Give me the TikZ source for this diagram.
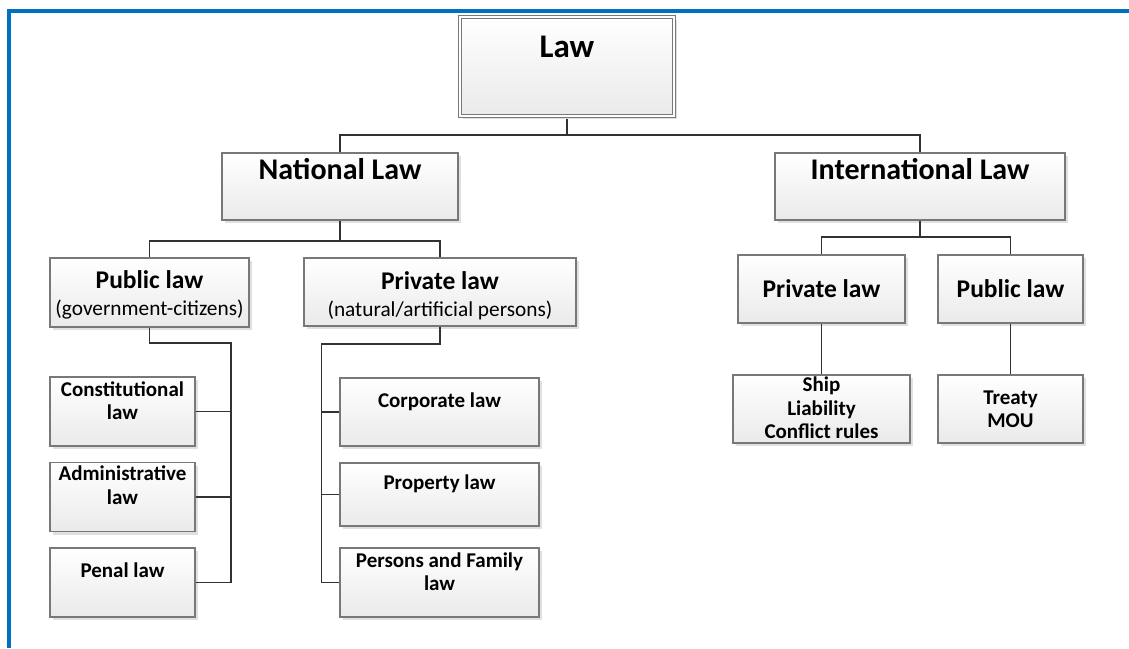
\documentclass[tikz,border=0pt]{standalone}
\usepackage{fontspec}
\setmainfont{Carlito}
\usetikzlibrary{shadows}

\definecolor{frameblue}{RGB}{0,112,192}
\definecolor{boxline}{RGB}{120,120,120}
\definecolor{boxbot}{RGB}{234,234,234}
\definecolor{linkgray}{RGB}{50,50,50}

% text set at the top of a box: width, height, first baseline, lines
\newcommand{\boxtext}[4]{\parbox[c][#2pt][t]{#1pt}{\centering\rule{0pt}{#3pt}#4\par}}

\begin{document}
\begin{tikzpicture}[x=1pt,y=-1pt,
  box/.style={draw=boxline,line width=1.1pt,top color=white,bottom color=boxbot,inner sep=0pt,
    drop shadow={shadow xshift=3pt,shadow yshift=-3pt,fill=black!12,opacity=1}},
  toplevel/.style={box,font=\bfseries\fontsize{30}{32}\selectfont},
  midlevel/.style={box,font=\bfseries\fontsize{25.5}{27}\selectfont},
  leaf/.style={box,font=\bfseries\fontsize{21}{23.5}\selectfont},
  link/.style={draw=linkgray,line width=1.7pt}]

\useasboundingbox (0,0) rectangle (1129,648);

%frame on the left and at the top
\fill[frameblue] (7,9) rectangle (11,648);
\fill[frameblue] (7,9) rectangle (1129,13);

%root
\node[box,double=white,double distance=2.4pt,line width=0.9pt,font=\bfseries\fontsize{33}{35}\selectfont]
  (law) at (567,66.5) {\boxtext{214}{99}{40}{Law}};

%first level
\node[toplevel] (national) at (340,186.5) {\boxtext{236}{67}{26.5}{National Law}};
\node[toplevel] (intl) at (920,186.5) {\boxtext{290}{67}{26.5}{International Law}};

%second level
\node[midlevel] (pub) at (149.5,292.5) {\boxtext{199}{69}{30}{Public law\\{\mdseries\fontsize{21.3}{27}\selectfont(government-citizens)}}};
\node[midlevel] (priv) at (440,292) {\boxtext{272}{68}{31}{Private law\\{\mdseries\fontsize{21.3}{27}\selectfont(natural/artificial persons)}}};
\node[midlevel] (ipriv) at (821.5,289) {\boxtext{167}{68}{42.5}{Private law}};
\node[midlevel] (ipub) at (1010.5,289) {\boxtext{145}{68}{42.5}{Public law}};

%leaves under public law
\node[leaf] (const) at (122.5,411.5) {\boxtext{145}{69}{19}{Constitutional\\law}};
\node[leaf] (admin) at (122.5,497) {\boxtext{145}{69}{18}{Administrative\\law}};
\node[leaf] (penal) at (122.5,582.5) {\boxtext{145}{69}{29.5}{Penal law}};

%leaves under private law
\node[leaf] (corp) at (439.5,412) {\boxtext{199}{68}{29.3}{Corporate law}};
\node[leaf] (prop) at (439.5,494.5) {\boxtext{199}{63}{26.3}{Property law}};
\node[leaf] (persons) at (439.5,582.5) {\boxtext{199}{69}{19.3}{Persons and Family\\law}};

%leaves under international law
\node[leaf] (ship) at (821.5,409) {\boxtext{177}{68}{16.7}{Ship\\Liability\\Conflict rules}};
\node[leaf] (treaty) at (1010.5,409) {\boxtext{145}{68}{29}{Treaty\\MOU}};

%bus points
\coordinate (lawbus) at (567,135);
\coordinate (natbus) at (340,241);
\coordinate (intbus) at (920,237);
\coordinate (pubtop) at (231,343);
\coordinate (privtop) at (321.5,344);

%connectors
\draw[link] ([yshift=-2.1pt]law.south) -- (lawbus) -| (national.north);
\draw[link] (lawbus) -| (intl.north);
\draw[link] (national.south) -- (natbus) -| (pub.north);
\draw[link] (natbus) -| (priv.north);
\draw[link] (intl.south) -- (intbus) -| (ipriv.north);
\draw[link] (intbus) -| (ipub.north);

\draw[link] (pub.south) |- (pubtop) |- (penal.east);
\draw[link] (const.east) -- (const.east -| pubtop);
\draw[link] (admin.east) -- (admin.east -| pubtop);

\draw[link] (priv.south) |- (privtop) |- (persons.west);
\draw[link] (corp.west) -- (corp.west -| privtop);
\draw[link] (prop.west) -- (prop.west -| privtop);

\draw[link] (ipriv.south) -- (ship.north);
\draw[link] (ipub.south) -- (treaty.north);

\end{tikzpicture}
\end{document}
